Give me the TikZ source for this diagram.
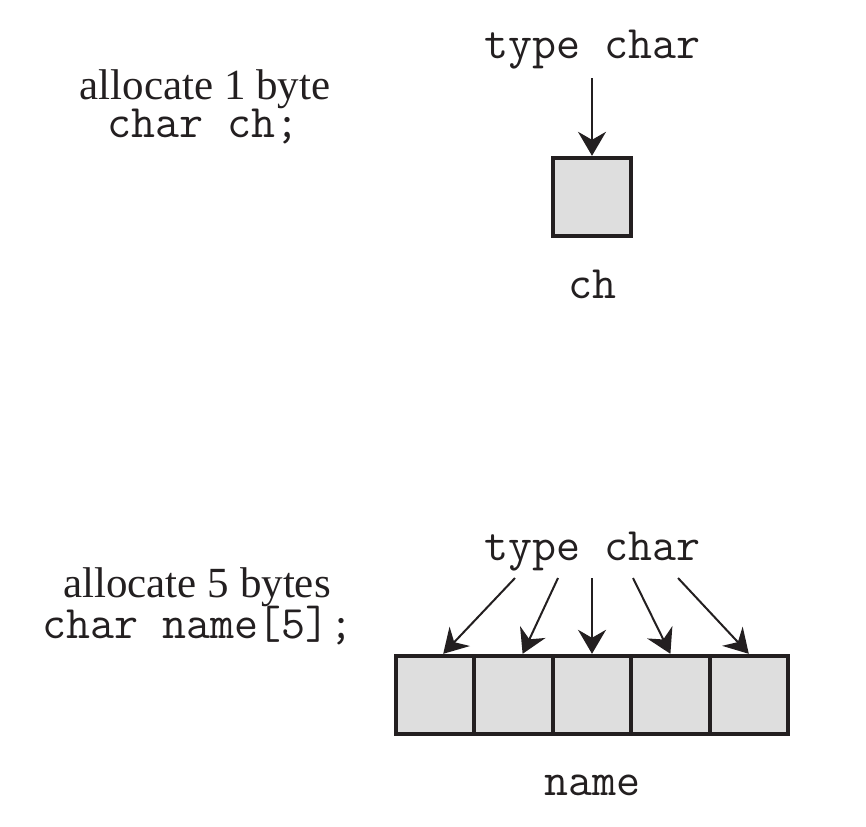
\documentclass[tikz,border=0pt]{standalone}
\usepackage{fontspec}
\setmainfont{Liberation Serif}
\usepackage{xcolor}
\usetikzlibrary{arrows.meta}
\definecolor{ink}{HTML}{231F20}
\definecolor{cellgray}{HTML}{DEDEDE}

\begin{document}
\begin{tikzpicture}[x=0.5pt,y=-0.5pt,
  cell/.style={draw=ink,fill=cellgray,line width=2pt,minimum size=39.2pt,inner sep=0pt},
  lbl/.style={inner sep=0pt,anchor=base,text=ink,font=\fontsize{21.5}{26}\selectfont},
  code/.style={lbl,font=\fontsize{23.3}{28}\selectfont\ttfamily},
  arr/.style={draw=ink,line width=1pt,-{Stealth[length=12pt,width=14pt,inset=4pt]}}]
\useasboundingbox(0,0)rectangle(866,826);
% one char
\node[lbl](alloc1)at(205,99){allocate 1 byte};
\node[code](decl1)at(203,137){char ch;};
\node[code](tc1)at(592,58){type char};
\node[cell](ch)at(592,197){};
\node[code](chname)at(592,298){ch};
\draw[arr]([yshift=-10pt]tc1.base)--(ch.north);
% array of five
\node[lbl](alloc5)at(197,597){allocate 5 bytes};
\node[code](decl5)at(198,638){char name[5];};
\node[code](tc2)at(592,560){type char};
\foreach \i in {1,...,5}
  \node[cell](c\i)at({592+(\i-3)*78.4},695){};
\node[code](arrname)at(592,795){name};
\foreach \i/\s/\e in {1/-38.5/4,2/-17/4.5,3/0/0,4/20.5/0,5/43/0}
  \draw[arr]([xshift=\s pt,yshift=-9pt]tc2.base)--([xshift=\e pt]c\i.north);
\end{tikzpicture}
\end{document}
